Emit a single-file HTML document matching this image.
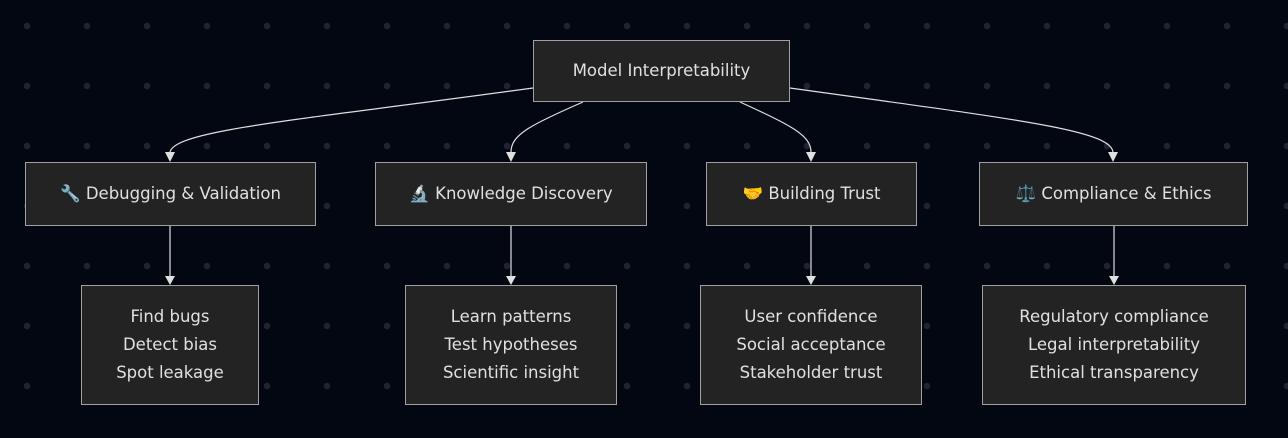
<!DOCTYPE html>
<html><head><meta charset="utf-8"><style>
html,body{margin:0;padding:0;}
body{width:1288px;height:438px;background:#030712;position:relative;overflow:hidden;font-family:"DejaVu Sans","Liberation Sans","Noto Sans CJK JP",sans-serif;}
.bg{position:absolute;inset:0;background-image:radial-gradient(circle,#1f2430 3px,transparent 3.5px);background-size:60px 60px;background-position:-3px -4px;}
.n{position:absolute;box-sizing:border-box;background:#232323;border:1.5px solid #a0a0a0;color:#e0e0e0;font-size:16.5px;display:flex;align-items:center;justify-content:center;text-align:center;line-height:28px;}
svg{position:absolute;left:0;top:0;}
</style></head><body>
<div class="bg"></div>
<svg width="1288" height="438">
<defs><marker id="a" markerWidth="10" markerHeight="10" refX="5" refY="9" orient="auto" markerUnits="userSpaceOnUse" viewBox="0 0 10 10"><path d="M0,0 L10,0 L5,9z" fill="#e0e0e0" transform="rotate(0)"/></marker></defs>
<g stroke="#e0e0e0" stroke-width="1.2" fill="none">
<path d="M533,88 C300,120 175,130 170,152"/>
<path d="M583,102 C530,125 511,135 511,152"/>
<path d="M740,102 C790,125 811,135 811,152"/>
<path d="M790,88 C1020,120 1110,130 1113,152"/>
<path d="M170,226 V276"/><path d="M511,226 V276"/><path d="M811,226 V276"/><path d="M1114,226 V276"/>
</g>
<g fill="#e0e0e0">
<path d="M165,152 h10 l-5,10z"/><path d="M506,152 h10 l-5,10z"/><path d="M806,152 h10 l-5,10z"/><path d="M1108,152 h10 l-5,10z"/>
<path d="M165,276 h10 l-5,9z"/><path d="M506,276 h10 l-5,9z"/><path d="M806,276 h10 l-5,9z"/><path d="M1109,276 h10 l-5,9z"/>
</g>
</svg>
<div class="n" style="left:533px;top:40px;width:257px;height:62px">Model Interpretability</div>
<div class="n" style="left:25px;top:162px;width:291px;height:64px">🔧 Debugging &amp; Validation</div>
<div class="n" style="left:375px;top:162px;width:272px;height:64px">🔬 Knowledge Discovery</div>
<div class="n" style="left:706px;top:162px;width:211px;height:64px">🤝 Building Trust</div>
<div class="n" style="left:979px;top:162px;width:269px;height:64px">⚖️ Compliance &amp; Ethics</div>
<div class="n" style="left:81px;top:285px;width:178px;height:120px">Find bugs<br>Detect bias<br>Spot leakage</div>
<div class="n" style="left:405px;top:285px;width:212px;height:120px">Learn patterns<br>Test hypotheses<br>Scientific insight</div>
<div class="n" style="left:700px;top:285px;width:222px;height:120px">User confidence<br>Social acceptance<br>Stakeholder trust</div>
<div class="n" style="left:982px;top:285px;width:264px;height:120px">Regulatory compliance<br>Legal interpretability<br>Ethical transparency</div>
</body></html>
